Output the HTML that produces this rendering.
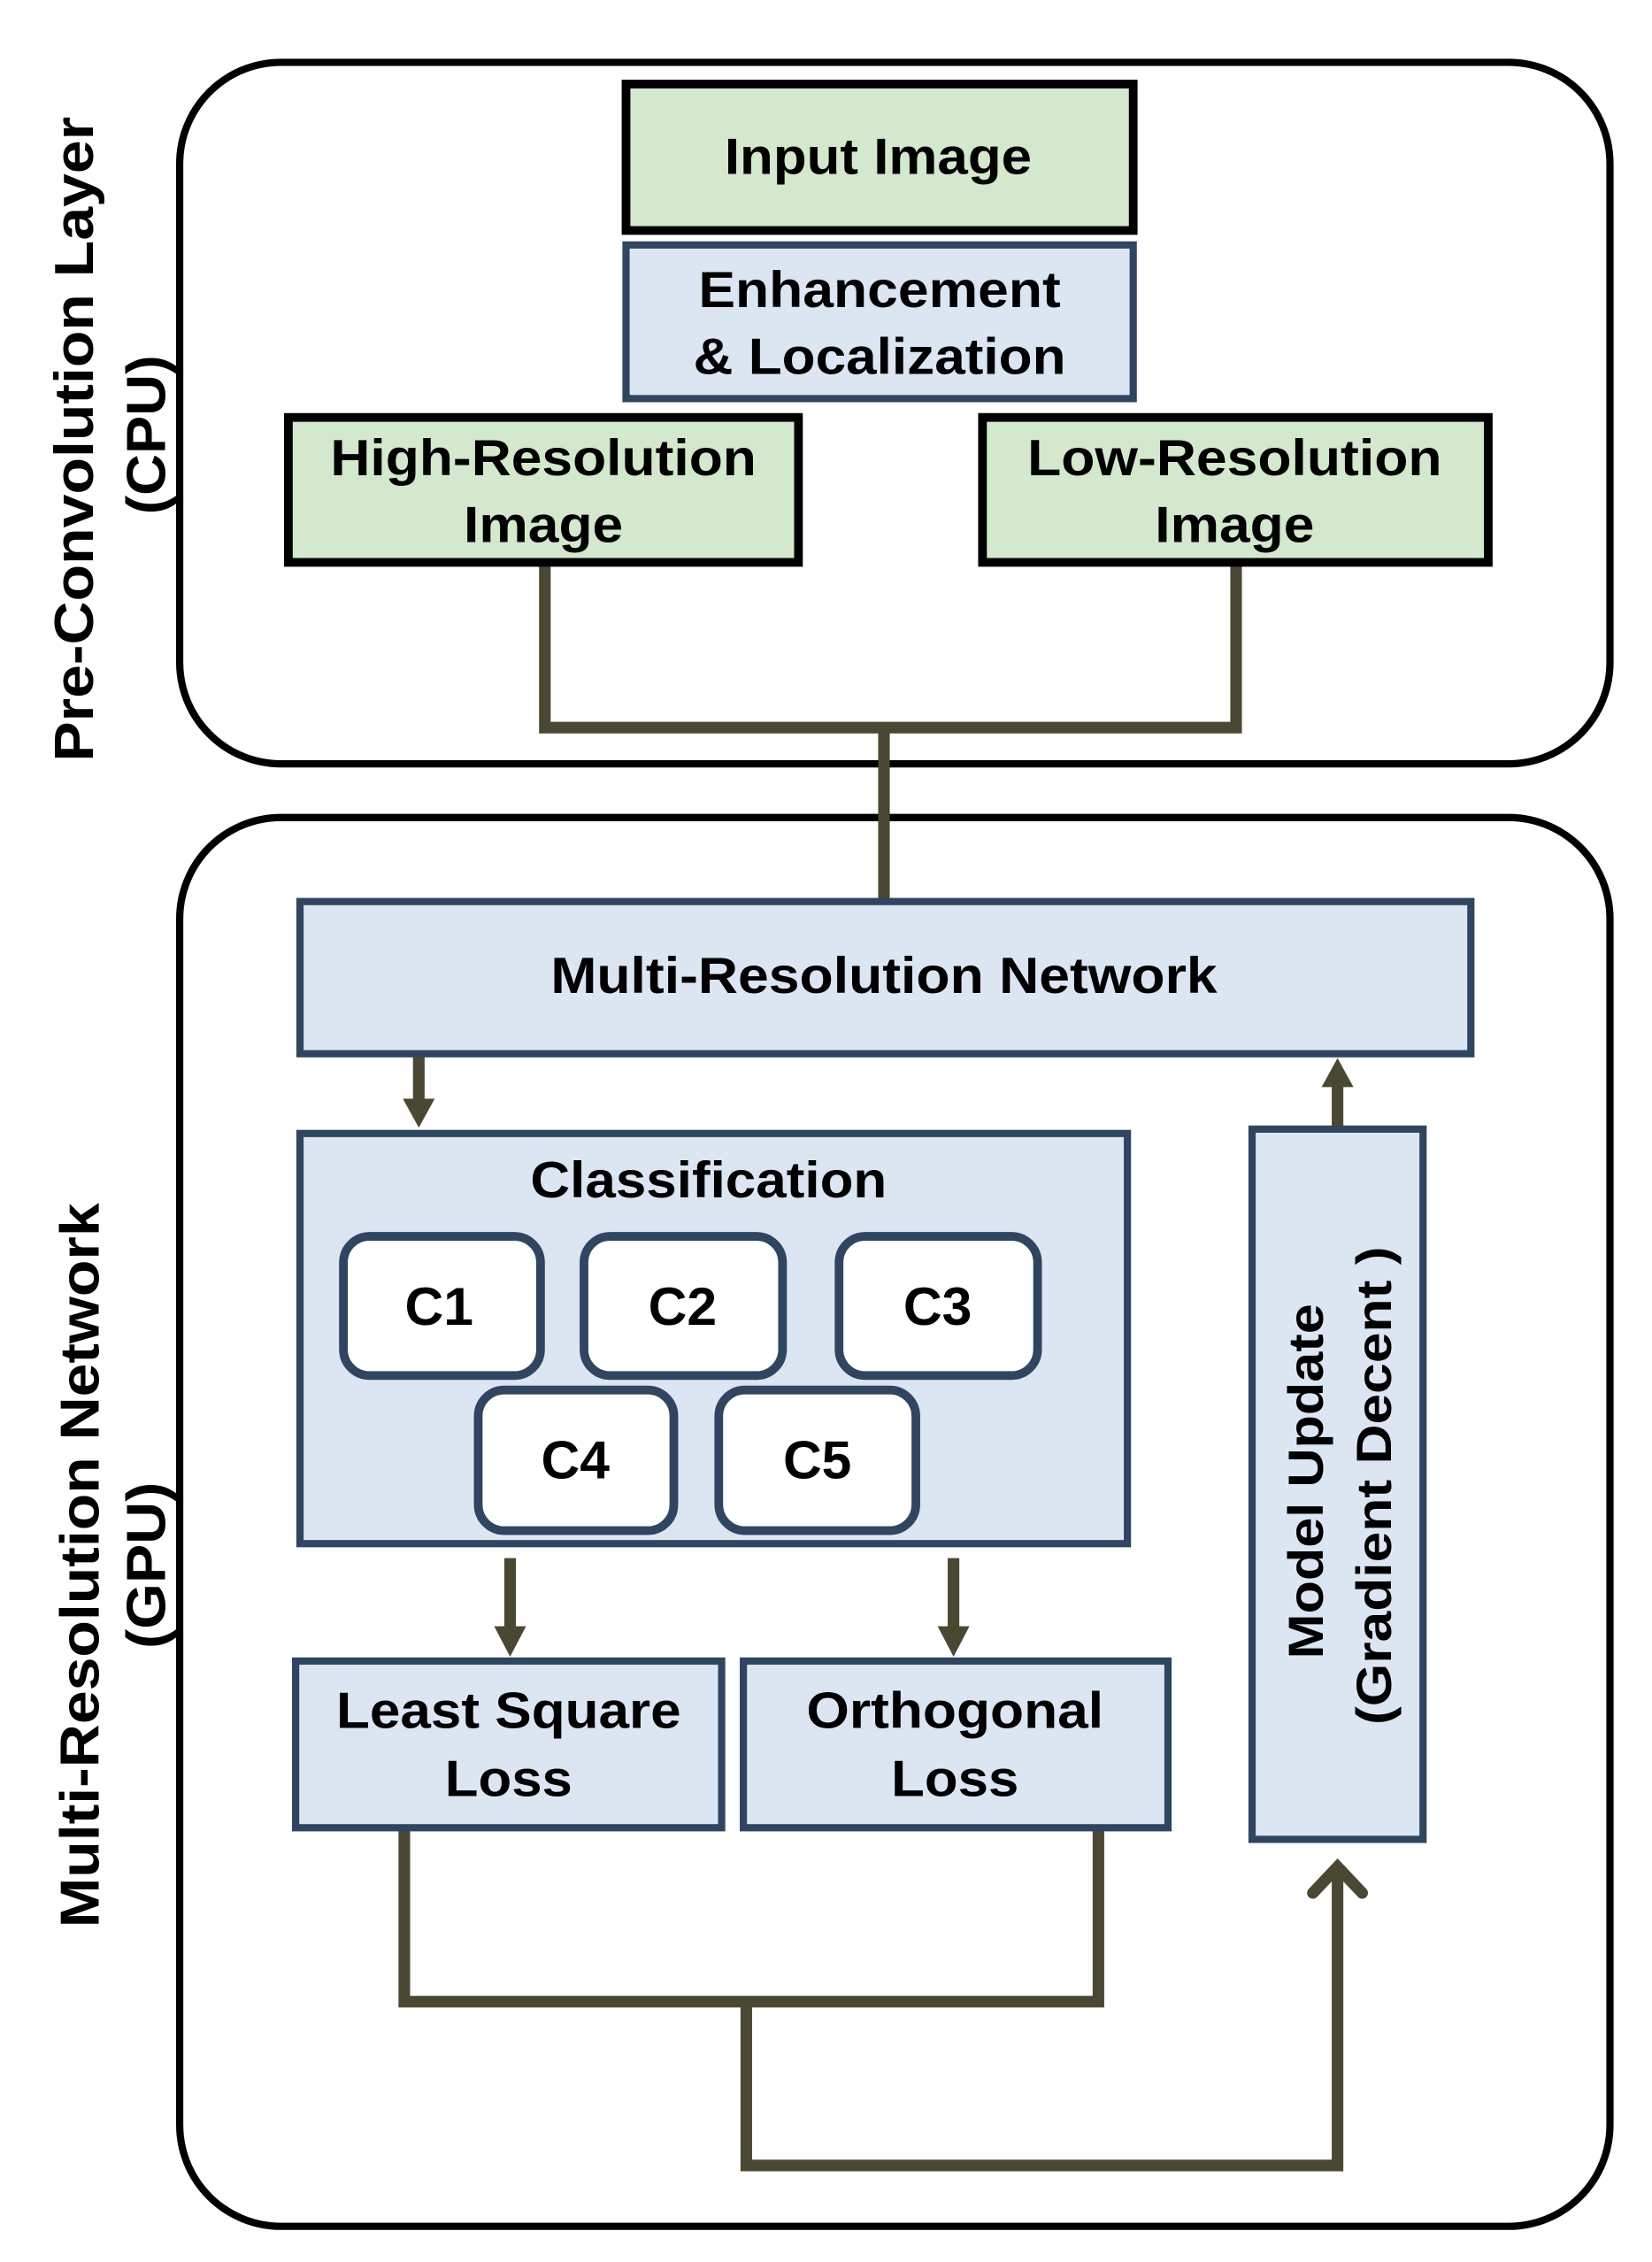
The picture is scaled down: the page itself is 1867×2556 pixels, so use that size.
<!DOCTYPE html>
<html><head><meta charset="utf-8"><style>
html,body{margin:0;padding:0;background:#fff;}
svg{display:block;}
text{font-family:"Liberation Sans",Arial,sans-serif;font-weight:bold;fill:#000;}
</style></head><body>
<svg width="1867" height="2556" viewBox="0 0 1140 1560.6" preserveAspectRatio="none" xmlns="http://www.w3.org/2000/svg">
<rect width="1140" height="1561" fill="#fff"/>
<rect x="124" y="43" width="987" height="484" rx="70" fill="#fff" stroke="#000" stroke-width="5"/>
<rect x="124" y="564" width="987" height="972" rx="70" fill="#fff" stroke="#000" stroke-width="5"/>
<text transform="translate(64,303) rotate(-90)" font-size="38" text-anchor="middle" textLength="445" lengthAdjust="spacingAndGlyphs">Pre-Convolution Layer</text>
<text transform="translate(114,300) rotate(-90)" font-size="38" text-anchor="middle" textLength="110" lengthAdjust="spacingAndGlyphs">(CPU)</text>
<text transform="translate(68,1080) rotate(-90)" font-size="38" text-anchor="middle" textLength="500" lengthAdjust="spacingAndGlyphs">Multi-Resolution Network</text>
<text transform="translate(114,1080) rotate(-90)" font-size="38" text-anchor="middle" textLength="115" lengthAdjust="spacingAndGlyphs">(GPU)</text>
<g fill="none" stroke="#4a4733" stroke-width="8">
<polyline points="376,389 376,502 853,502 853,389"/>
<line x1="610" y1="502" x2="610" y2="622"/>
<polyline points="279,1262 279,1381 758,1381 758,1262"/>
<polyline points="515,1381 515,1494 923,1494 923,1290"/>
<line x1="289" y1="729" x2="289" y2="762"/>
<line x1="923" y1="778" x2="923" y2="745"/>
<line x1="352" y1="1075" x2="352" y2="1125"/>
<line x1="658" y1="1075" x2="658" y2="1125"/>
</g>
<polyline points="906,1306 923,1288 940,1306" fill="none" stroke="#4a4733" stroke-width="8" stroke-linecap="round"/>
<g fill="#4a4733">
<polygon points="278,758 300,758 289,778"/>
<polygon points="912,750 934,750 923,730"/>
<polygon points="341,1122 363,1122 352,1143"/>
<polygon points="647,1122 669,1122 658,1143"/>
</g>
<rect x="432" y="58" width="350" height="101" fill="#d3e8cd" stroke="#000" stroke-width="6"/>
<text x="606" y="120" font-size="35" text-anchor="middle" textLength="212" lengthAdjust="spacingAndGlyphs">Input Image</text>
<rect x="432" y="169" width="350" height="106" fill="#dce6f2" stroke="#2f4560" stroke-width="5"/>
<text x="607" y="212" font-size="35" text-anchor="middle" textLength="250" lengthAdjust="spacingAndGlyphs">Enhancement</text>
<text x="607" y="258" font-size="35" text-anchor="middle" textLength="257" lengthAdjust="spacingAndGlyphs">&amp; Localization</text>
<rect x="199" y="288" width="352" height="100" fill="#d3e8cd" stroke="#000" stroke-width="6"/>
<text x="375" y="328" font-size="35" text-anchor="middle" textLength="294" lengthAdjust="spacingAndGlyphs">High-Resolution</text>
<text x="375" y="374" font-size="35" text-anchor="middle" textLength="110" lengthAdjust="spacingAndGlyphs">Image</text>
<rect x="678" y="288" width="349" height="100" fill="#d3e8cd" stroke="#000" stroke-width="6"/>
<text x="852" y="328" font-size="35" text-anchor="middle" textLength="286" lengthAdjust="spacingAndGlyphs">Low-Resolution</text>
<text x="852" y="374" font-size="35" text-anchor="middle" textLength="110" lengthAdjust="spacingAndGlyphs">Image</text>
<rect x="207" y="622" width="808" height="105" fill="#dce6f2" stroke="#2f4560" stroke-width="5"/>
<text x="610" y="685" font-size="35" text-anchor="middle" textLength="460" lengthAdjust="spacingAndGlyphs">Multi-Resolution Network</text>
<rect x="207" y="782" width="571" height="283" fill="#dce6f2" stroke="#2f4560" stroke-width="5"/>
<text x="489" y="826" font-size="35" text-anchor="middle" textLength="246" lengthAdjust="spacingAndGlyphs">Classification</text>
<g fill="#fff" stroke="#2f4560" stroke-width="6">
<rect x="237" y="853" width="136" height="96" rx="18"/>
<rect x="403" y="853" width="137" height="96" rx="18"/>
<rect x="579" y="853" width="137" height="96" rx="18"/>
<rect x="330" y="959" width="135" height="97" rx="18"/>
<rect x="496" y="959" width="136" height="97" rx="18"/>
</g>
<text x="303" y="914" font-size="37" text-anchor="middle">C1</text>
<text x="471" y="914" font-size="37" text-anchor="middle">C2</text>
<text x="647" y="914" font-size="37" text-anchor="middle">C3</text>
<text x="397" y="1020" font-size="37" text-anchor="middle">C4</text>
<text x="564" y="1020" font-size="37" text-anchor="middle">C5</text>
<rect x="204" y="1146" width="294" height="115" fill="#dce6f2" stroke="#2f4560" stroke-width="5"/>
<text x="351" y="1192" font-size="35" text-anchor="middle" textLength="238" lengthAdjust="spacingAndGlyphs">Least Square</text>
<text x="351" y="1239" font-size="35" text-anchor="middle" textLength="88" lengthAdjust="spacingAndGlyphs">Loss</text>
<rect x="513" y="1146" width="293" height="115" fill="#dce6f2" stroke="#2f4560" stroke-width="5"/>
<text x="659" y="1192" font-size="35" text-anchor="middle" textLength="205" lengthAdjust="spacingAndGlyphs">Orthogonal</text>
<text x="659" y="1239" font-size="35" text-anchor="middle" textLength="88" lengthAdjust="spacingAndGlyphs">Loss</text>
<rect x="864" y="779" width="118" height="490" fill="#dce6f2" stroke="#2f4560" stroke-width="5"/>
<text transform="translate(913,1022) rotate(-90)" font-size="34" text-anchor="middle" textLength="245" lengthAdjust="spacingAndGlyphs">Model Update</text>
<text transform="translate(960,1025) rotate(-90)" font-size="34" text-anchor="middle" textLength="330" lengthAdjust="spacingAndGlyphs">(Gradient Decent )</text>
</svg>
</body></html>
